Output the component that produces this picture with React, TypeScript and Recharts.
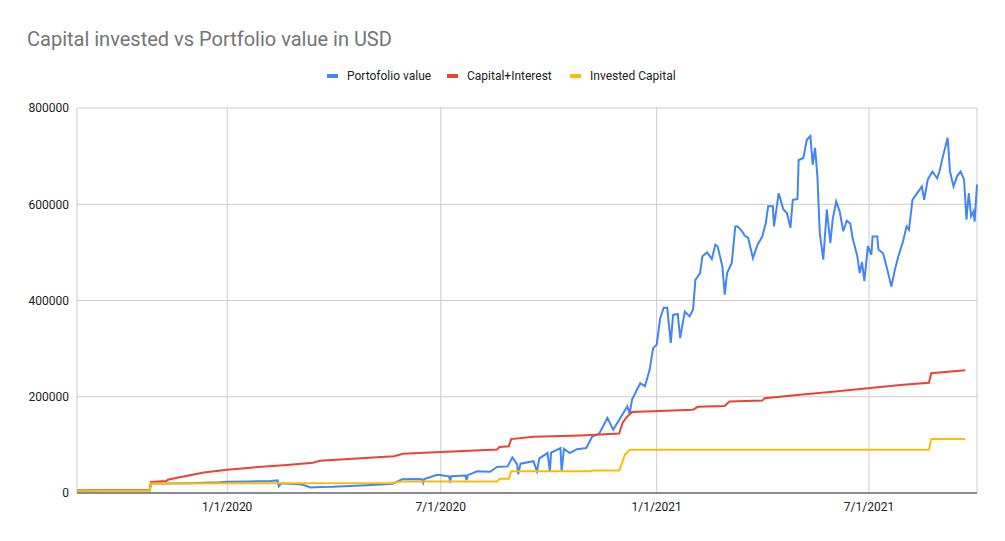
import React from 'react';
import { LineChart, Line, XAxis, YAxis, CartesianGrid } from 'recharts';

// --- Data ---
const X_START = '2019-08-26';
const X_END = '2021-10-01';
const X_TICKS = ['2020-01-01', '2020-07-01', '2021-01-01', '2021-07-01'];
const Y_TICKS = [0, 200000, 400000, 600000, 800000];

const portfolioValue: [string, number][] = [
  ['2019-08-26', 5000], ['2019-10-27', 5000], ['2019-10-28', 19500], ['2019-11-28', 20500],
  ['2019-12-26', 22500], ['2020-01-01', 23500], ['2020-01-21', 24000], ['2020-02-07', 25000],
  ['2020-02-13', 26200], ['2020-02-14', 14000], ['2020-02-16', 20000], ['2020-03-05', 17500],
  ['2020-03-12', 11500], ['2020-03-20', 12500], ['2020-03-31', 13000], ['2020-04-29', 16000],
  ['2020-05-21', 19000], ['2020-05-29', 28500], ['2020-06-11', 29000], ['2020-06-15', 28500],
  ['2020-06-16', 21000], ['2020-06-17', 29000], ['2020-06-28', 38000], ['2020-07-06', 35500],
  ['2020-07-08', 35000], ['2020-07-09', 26000], ['2020-07-10', 35000], ['2020-07-22', 36500],
  ['2020-07-23', 27000], ['2020-07-24', 37000], ['2020-08-01', 45000], ['2020-08-12', 44000],
  ['2020-08-18', 54000], ['2020-08-27', 55300], ['2020-08-31', 74000], ['2020-09-04', 60000],
  ['2020-09-05', 39000], ['2020-09-07', 61000], ['2020-09-18', 66000], ['2020-09-21', 45000],
  ['2020-09-23', 72000], ['2020-09-30', 83000], ['2020-10-02', 45000], ['2020-10-03', 84000],
  ['2020-10-11', 93500], ['2020-10-12', 45000], ['2020-10-14', 92000], ['2020-10-19', 83000],
  ['2020-10-25', 91000], ['2020-11-02', 93500], ['2020-11-07', 117000], ['2020-11-13', 123000],
  ['2020-11-20', 156000], ['2020-11-25', 131500], ['2020-12-01', 156000], ['2020-12-07', 180000],
  ['2020-12-09', 165000], ['2020-12-11', 194000], ['2020-12-18', 228000], ['2020-12-22', 222000],
  ['2020-12-26', 256000], ['2020-12-29', 301000], ['2021-01-01', 308000], ['2021-01-04', 363000],
  ['2021-01-07', 385000], ['2021-01-10', 385000], ['2021-01-13', 312000], ['2021-01-15', 370000],
  ['2021-01-19', 372000], ['2021-01-21', 322000], ['2021-01-25', 377000], ['2021-01-29', 367000],
  ['2021-02-01', 381000], ['2021-02-03', 443000], ['2021-02-07', 457000], ['2021-02-09', 492000],
  ['2021-02-13', 500000], ['2021-02-17', 486000], ['2021-02-20', 516000], ['2021-02-22', 512000],
  ['2021-02-26', 471000], ['2021-02-28', 412000], ['2021-03-02', 457000], ['2021-03-06', 478000],
  ['2021-03-09', 554000], ['2021-03-11', 554000], ['2021-03-15', 543000], ['2021-03-17', 535000],
  ['2021-03-20', 530000], ['2021-03-24', 488000], ['2021-03-28', 516000], ['2021-04-01', 533000],
  ['2021-04-04', 561000], ['2021-04-06', 596000], ['2021-04-10', 596000], ['2021-04-11', 554000],
  ['2021-04-15', 623000], ['2021-04-19', 589000], ['2021-04-22', 582000], ['2021-04-25', 551000],
  ['2021-04-27', 609000], ['2021-05-01', 611000], ['2021-05-02', 692000], ['2021-05-06', 696000],
  ['2021-05-09', 734000], ['2021-05-12', 742000], ['2021-05-14', 682000], ['2021-05-16', 717000],
  ['2021-05-18', 658000], ['2021-05-20', 540000], ['2021-05-23', 485000], ['2021-05-26', 589000],
  ['2021-05-29', 519000], ['2021-05-31', 568000], ['2021-06-03', 606000], ['2021-06-06', 585000],
  ['2021-06-09', 544000], ['2021-06-12', 566000], ['2021-06-15', 560000], ['2021-06-17', 530000],
  ['2021-06-21', 492000], ['2021-06-23', 457000], ['2021-06-25', 480000], ['2021-06-27', 440000],
  ['2021-06-30', 513000], ['2021-07-03', 495000], ['2021-07-04', 533000], ['2021-07-08', 533000],
  ['2021-07-09', 506000], ['2021-07-13', 498000], ['2021-07-17', 460000], ['2021-07-20', 429000],
  ['2021-07-23', 464000], ['2021-07-26', 492000], ['2021-07-30', 523000], ['2021-08-02', 554000],
  ['2021-08-04', 547000], ['2021-08-07', 609000], ['2021-08-11', 623000], ['2021-08-15', 637000],
  ['2021-08-17', 609000], ['2021-08-20', 651000], ['2021-08-24', 668000], ['2021-08-28', 654000],
  ['2021-08-30', 668000], ['2021-09-02', 700000], ['2021-09-06', 738000], ['2021-09-08', 668000],
  ['2021-09-11', 637000], ['2021-09-14', 658000], ['2021-09-17', 668000], ['2021-09-20', 651000],
  ['2021-09-22', 568000], ['2021-09-24', 623000], ['2021-09-26', 575000], ['2021-09-28', 585000],
  ['2021-09-29', 564000], ['2021-10-01', 641000],
];

const capitalInterest: [string, number][] = [
  ['2019-08-26', 5500], ['2019-10-27', 7000], ['2019-10-28', 23000], ['2019-11-10', 25000],
  ['2019-11-12', 28000], ['2019-11-28', 36000], ['2019-12-12', 42800], ['2020-01-01', 48400],
  ['2020-01-23', 53200], ['2020-02-21', 58200], ['2020-03-14', 63000], ['2020-03-20', 67000],
  ['2020-05-22', 76500], ['2020-05-30', 81500], ['2020-07-01', 85200], ['2020-08-18', 90500],
  ['2020-08-20', 95500], ['2020-08-28', 97000], ['2020-08-30', 112000], ['2020-09-18', 117000],
  ['2020-10-28', 119700], ['2020-11-30', 123500], ['2020-12-03', 146000], ['2020-12-07', 159000],
  ['2020-12-11', 168500], ['2021-02-01', 173100], ['2021-02-05', 179000], ['2021-02-28', 181000],
  ['2021-03-04', 190000], ['2021-04-01', 192000], ['2021-04-03', 197000], ['2021-05-03', 204000],
  ['2021-05-31', 210500], ['2021-07-02', 218000], ['2021-07-30', 225000], ['2021-08-21', 229000],
  ['2021-08-23', 249000], ['2021-09-21', 255000],
];

const investedCapital: [string, number][] = [
  ['2019-08-26', 5000], ['2019-10-27', 5000], ['2019-10-28', 20000], ['2020-05-20', 21000],
  ['2020-05-29', 24000], ['2020-08-18', 24000], ['2020-08-20', 29500], ['2020-08-28', 29500],
  ['2020-08-30', 45000], ['2020-11-05', 45000], ['2020-11-08', 46500], ['2020-11-30', 46500],
  ['2020-12-03', 66000], ['2020-12-05', 80000], ['2020-12-09', 90000], ['2021-08-21', 90000],
  ['2021-08-23', 112000], ['2021-09-21', 112000],
];

// --- Helpers & config ---
const toTs = (d: string) => Date.parse(d + 'T00:00:00Z');
const toRows = (src: [string, number][]) => src.map(([d, v]) => ({ t: toTs(d), v }));
const fmtDate = (t: number) => {
  const d = new Date(t);
  return `${d.getUTCMonth() + 1}/${d.getUTCDate()}/${d.getUTCFullYear()}`;
};

const FONT = 'Roboto, Arial, sans-serif';

const SERIES = [
  { name: 'Portofolio value', color: '#4285f4', rows: toRows(portfolioValue), legendX: 327 },
  { name: 'Capital+Interest', color: '#ea4335', rows: toRows(capitalInterest), legendX: 447 },
  { name: 'Invested Capital', color: '#fbbc04', rows: toRows(investedCapital), legendX: 570 },
];

const App: React.FC = () => (
  <div style={{ position: 'fixed', left: 0, top: 0, width: 1005, height: 541, background: '#fff', fontFamily: FONT }}>
    <LineChart width={1005} height={541} margin={{ top: 108, right: 28, left: 17, bottom: 18 }}>
      <CartesianGrid stroke="#cccccc" />
      <XAxis
        dataKey="t"
        type="number"
        domain={[toTs(X_START), toTs(X_END)]}
        ticks={X_TICKS.map(toTs)}
        tickFormatter={fmtDate}
        height={30}
        axisLine={{ stroke: '#333333' }}
        tickLine={false}
        tickMargin={3}
        tick={{ fill: '#222222', fontSize: 12, fontFamily: FONT }}
      />
      <YAxis
        type="number"
        domain={[0, 800000]}
        ticks={Y_TICKS}
        width={60}
        axisLine={false}
        tickLine={false}
        tick={{ fill: '#222222', fontSize: 12, fontFamily: FONT }}
      />
      {SERIES.map((s) => (
        <Line
          key={s.name}
          data={s.rows}
          dataKey="v"
          name={s.name}
          type="linear"
          stroke={s.color}
          strokeWidth={2}
          dot={false}
          activeDot={false}
          isAnimationActive={false}
        />
      ))}
    </LineChart>
    <svg width={1005} height={541} style={{ position: 'absolute', left: 0, top: 0, pointerEvents: 'none' }}>
      <text x={27} y={46} fontSize={20} fill="#757575" fontFamily={FONT}>
        Capital invested vs Portfolio value in USD
      </text>
      {SERIES.map((s) => (
        <g key={s.name}>
          <rect x={s.legendX} y={74} width={11} height={4} fill={s.color} />
          <text x={s.legendX + 20} y={80} fontSize={12} fill="#222222" fontFamily={FONT}>
            {s.name}
          </text>
        </g>
      ))}
    </svg>
  </div>
);

export default App;
